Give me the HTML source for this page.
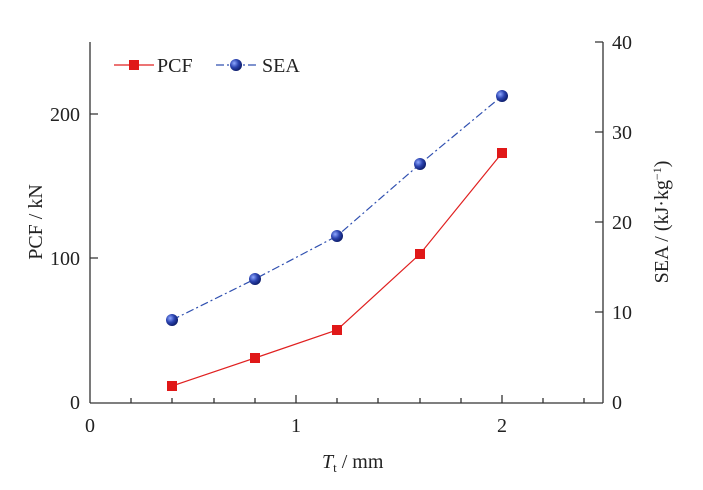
<!DOCTYPE html>
<html><head><meta charset="utf-8"><style>body{margin:0;background:#fff}svg{display:block}text{font-family:"Liberation Serif",serif;fill:#222}</style></head>
<body>
<svg width="703" height="490" viewBox="0 0 703 490">
<defs><radialGradient id="g" cx="0.35" cy="0.35" r="0.7"><stop offset="0" stop-color="#8fa8ff"/><stop offset="0.5" stop-color="#2c44b0"/><stop offset="1" stop-color="#0b1a66"/></radialGradient></defs>
<g stroke="#333" stroke-width="1.3" fill="none">
<line x1="90" y1="42" x2="90" y2="403"/>
<line x1="603" y1="42" x2="603" y2="403"/>
<line x1="90" y1="403" x2="603" y2="403"/>
<path d="M131,403v-5M172,403v-5M214,403v-5M255,403v-5M296,403v-8M337,403v-5M378,403v-5M420,403v-5M461,403v-5M502,403v-8M543,403v-5M584,403v-5"/>
<path d="M90,114h8M90,258h8"/>
<path d="M603,42h-8M603,132h-8M603,222h-8M603,312h-8"/>
</g>
<g font-size="20">
<text x="90" y="432" text-anchor="middle">0</text>
<text x="296" y="432" text-anchor="middle">1</text>
<text x="502" y="432" text-anchor="middle">2</text>
<text x="80" y="409" text-anchor="end">0</text>
<text x="80" y="265" text-anchor="end">100</text>
<text x="80" y="121" text-anchor="end">200</text>
<text x="612" y="409">0</text>
<text x="612" y="319">10</text>
<text x="612" y="229">20</text>
<text x="612" y="139">30</text>
<text x="612" y="49">40</text>
<text x="322" y="468"><tspan font-style="italic">T</tspan><tspan font-size="13" dy="4">t</tspan><tspan dy="-4"> / mm</tspan></text>
<text transform="translate(42,222) rotate(-90)" text-anchor="middle">PCF / kN</text>
<text transform="translate(668,222) rotate(-90)" text-anchor="middle">SEA / (kJ·kg<tspan font-size="12" dy="-7">−1</tspan><tspan dy="7">)</tspan></text>
<text x="157" y="72">PCF</text>
<text x="262" y="72">SEA</text>
</g>
<g stroke="#e02020" stroke-width="1.2" fill="#e01818">
<polyline fill="none" points="172,386 255,358 337,330 420,254 502,153"/>
<rect x="167" y="381" width="10" height="10" stroke="none"/>
<rect x="250" y="353" width="10" height="10" stroke="none"/>
<rect x="332" y="325" width="10" height="10" stroke="none"/>
<rect x="415" y="249" width="10" height="10" stroke="none"/>
<rect x="497" y="148" width="10" height="10" stroke="none"/>
<line x1="114" y1="65" x2="154" y2="65"/>
<rect x="129" y="60" width="10" height="10" stroke="none"/>
</g>
<g stroke="#3050b0" stroke-width="1.2">
<polyline fill="none" stroke-dasharray="8,3,2,3" points="172,320 255,279 337,236 420,164 502,96"/>
<line x1="216" y1="65" x2="256" y2="65" stroke-dasharray="8,3,2,3"/>
</g>
<g fill="url(#g)">
<circle cx="172" cy="320" r="6"/><circle cx="255" cy="279" r="6"/><circle cx="337" cy="236" r="6"/><circle cx="420" cy="164" r="6"/><circle cx="502" cy="96" r="6"/><circle cx="236" cy="65" r="6"/>
</g>
</svg>
</body></html>
